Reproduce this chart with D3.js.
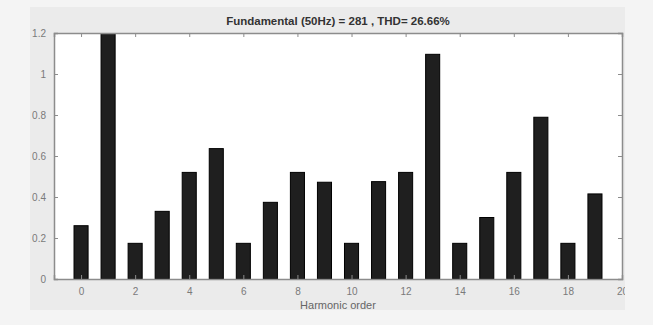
<!DOCTYPE html>
<html>
<head>
<meta charset="utf-8">
<script src="https://cdn.jsdelivr.net/npm/d3@7"></script>
<style>
  body { margin: 0; background: #f4f4f4; }
  svg { display: block; font-family: "Liberation Sans", Arial, sans-serif; }
</style>
</head>
<body>
<svg id="chart" width="653" height="325"></svg>
<script>
// harmonic order 0..19 and amplitude
const harmonics = d3.range(0, 20);
const amplitudes = [0.26, 1.6, 0.174, 0.33, 0.52, 0.636, 0.174, 0.374, 0.52, 0.472,
                    0.174, 0.475, 0.52, 1.096, 0.174, 0.30, 0.52, 0.789, 0.174, 0.415];
const xTicks = [0, 2, 4, 6, 8, 10, 12, 14, 16, 18, 20];
const yTicks = [0, 0.2, 0.4, 0.6, 0.8, 1, 1.2];
const title = "Fundamental (50Hz) = 281 , THD= 26.66%";
const xTitle = "Harmonic order";

const svg = d3.select("#chart");
const panel = { x: 30, y: 7, w: 595, h: 303 };
const plot = { left: 54, right: 622, top: 33, bottom: 279 };

// grey figure panel, everything drawn inside gets clipped to it
const defs = svg.append("defs");
defs.append("clipPath").attr("id", "panelClip")
  .append("rect").attr("x", panel.x).attr("y", panel.y).attr("width", panel.w).attr("height", panel.h);
defs.append("clipPath").attr("id", "plotClip")
  .append("rect").attr("x", plot.left).attr("y", plot.top)
  .attr("width", plot.right - plot.left).attr("height", plot.bottom - plot.top);

svg.append("rect")
  .attr("x", panel.x).attr("y", panel.y).attr("width", panel.w).attr("height", panel.h)
  .attr("fill", "#ebebeb");

const g = svg.append("g").attr("clip-path", "url(#panelClip)");

const x = d3.scaleLinear().domain([-1, 20]).range([plot.left, plot.right]);
const y = d3.scaleLinear().domain([0, 1.2]).range([plot.bottom, plot.top]);

// plot area
g.append("rect")
  .attr("x", plot.left).attr("y", plot.top)
  .attr("width", plot.right - plot.left).attr("height", plot.bottom - plot.top)
  .attr("fill", "#fff");

// bars, clipped to the axes box
const barW = x(0.52) - x(0);
g.append("g").attr("clip-path", "url(#plotClip)")
  .selectAll("rect")
  .data(harmonics)
  .enter()
  .append("rect")
  .attr("x", d => x(d) - barW / 2)
  .attr("y", d => y(amplitudes[d]))
  .attr("width", barW)
  .attr("height", d => y(0) - y(amplitudes[d]))
  .attr("fill", "#1f1f1f")
  .attr("stroke", "#000")
  .attr("stroke-width", 1);

// axes: MATLAB style with inward ticks on all four sides
const axisColor = "#8c8c8c";
const labelColor = "#7a7a7a";

const xAxis = g.append("g").attr("transform", "translate(0," + plot.bottom + ")")
  .call(d3.axisBottom(x).tickValues(xTicks).tickSize(-4).tickPadding(9).tickFormat(d3.format("d")));
const xTop = g.append("g").attr("transform", "translate(0," + plot.top + ")")
  .call(d3.axisTop(x).tickValues(xTicks).tickSize(-4).tickFormat(""));
const yAxis = g.append("g").attr("transform", "translate(" + plot.left + ",0)")
  .call(d3.axisLeft(y).tickValues(yTicks).tickSize(-4).tickPadding(8).tickFormat(d => d3.format("~g")(d)));
const yRight = g.append("g").attr("transform", "translate(" + plot.right + ",0)")
  .call(d3.axisRight(y).tickValues(yTicks).tickSize(-4).tickFormat(""));

[xAxis, xTop, yAxis, yRight].forEach(a => {
  a.select(".domain").attr("stroke", axisColor).attr("stroke-width", 1.5);
  a.selectAll(".tick line").attr("stroke", axisColor);
  a.selectAll(".tick text").attr("fill", labelColor).attr("font-size", 10)
    .attr("font-family", "Liberation Sans, Arial, sans-serif");
});

// titles
g.append("text")
  .attr("x", 338).attr("y", 25)
  .attr("text-anchor", "middle")
  .attr("font-size", 11.5).attr("font-weight", "bold")
  .attr("fill", "#333")
  .text(title);

g.append("text")
  .attr("x", 338).attr("y", 309)
  .attr("text-anchor", "middle")
  .attr("font-size", 11)
  .attr("fill", "#666")
  .text(xTitle);
</script>
</body>
</html>
